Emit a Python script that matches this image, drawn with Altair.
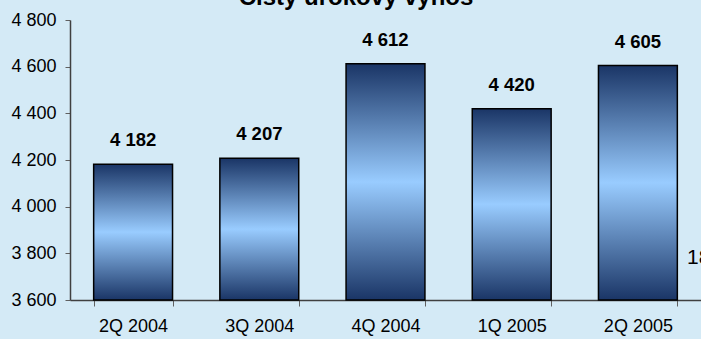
import altair as alt
import pandas as pd

quarters = ["2Q 2004", "3Q 2004", "4Q 2004", "1Q 2005", "2Q 2005"]
values = [4182, 4207, 4612, 4420, 4605]
y_ticks = [3600, 3800, 4000, 4200, 4400, 4600, 4800]
y_min, y_max = 3600, 4800
title_text = ["Čistý úrokový výnos"]
page_number = ["18"]

FONT = "Liberation Sans"
df = pd.DataFrame({"q": quarters, "v": values})

grad = alt.Gradient(
    gradient="linear",
    stops=[
        alt.GradientStop(color="#1a3566", offset=0),
        alt.GradientStop(color="#99ccff", offset=0.5),
        alt.GradientStop(color="#1a3566", offset=1),
    ],
    x1=0, x2=0, y1=0, y2=1,
)

x = alt.X(
    "q:N", sort=quarters,
    scale=alt.Scale(paddingInner=0.375, paddingOuter=0.1875),
    axis=alt.Axis(title=None, labelAngle=0, tickBand="extent", labelFont=FONT,
                  labelFontSize=18, labelColor="black", labelPadding=11,
                  tickSize=6, tickColor="#606060", domainColor="#404040",
                  domainWidth=1.5),
)
y = alt.Y(
    "v:Q",
    scale=alt.Scale(domain=[y_min, y_max], zero=False, nice=False),
    axis=alt.Axis(title=None, values=y_ticks, grid=False,
                  labelExpr="replace(format(datum.value, ','), ',', ' ')",
                  labelFont=FONT, labelFontSize=18, labelColor="black",
                  labelPadding=9, tickSize=5, tickColor="#606060",
                  domainColor="#404040", domainWidth=1.5),
)

bars = alt.Chart(df).mark_bar(color=grad, stroke="black", strokeWidth=1.5).encode(
    x=x, y=y, y2=alt.datum(y_min))

labels = alt.Chart(df).transform_calculate(
    lab="replace(format(datum.v, ','), ',', ' ')"
).mark_text(font=FONT, fontSize=18.5, fontWeight="bold", baseline="alphabetic",
            dy=-18, color="black").encode(x=x, y=y, text="lab:N")

page = alt.Chart(pd.DataFrame({"t": page_number})).mark_text(
    font=FONT, fontSize=21, align="left", baseline="middle", color="black"
).encode(text="t:N", x=alt.value(617), y=alt.value(238))

title = alt.Chart(pd.DataFrame({"t": title_text})).mark_text(
    font=FONT, fontSize=24, fontWeight="bold", align="center", baseline="alphabetic",
    color="black"
).encode(text="t:N", x=alt.value(286), y=alt.value(-15))

chart = alt.layer(bars, labels, page, title).properties(
    width=631, height=280,
    padding={"left": 70, "top": 20, "right": 0, "bottom": 39},
    autosize=alt.AutoSizeParams(type="none"),
    background="#D4EAF6",
).configure_view(stroke=None)

chart.save("out.html", embed_options={"renderer": "svg", "actions": False})
